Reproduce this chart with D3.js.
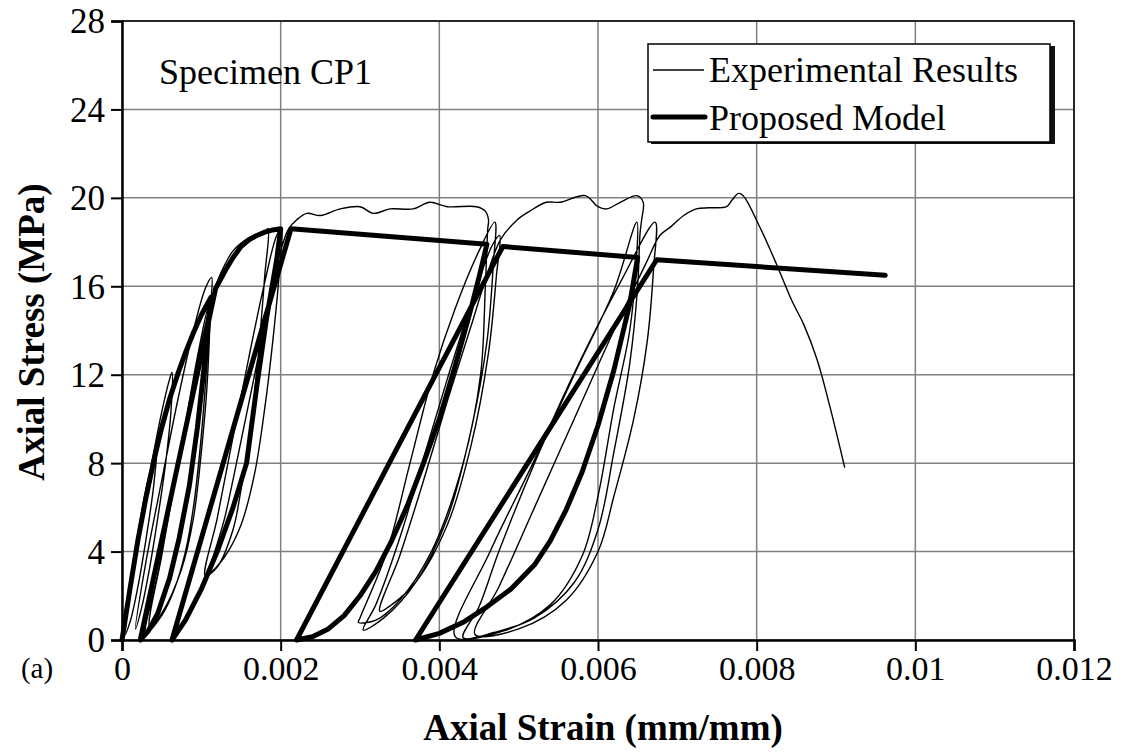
<!DOCTYPE html>
<html>
<head>
<meta charset="utf-8">
<script src="https://cdn.jsdelivr.net/npm/d3@7"></script>
<style>
  body { margin: 0; background: #fff; }
  svg text { font-family: "Liberation Serif", "Times New Roman", serif; fill: #000; }
</style>
</head>
<body>
<script>
// tick values and labels
const xTicks = [0, 0.002, 0.004, 0.006, 0.008, 0.01, 0.012]
const xTickLabels = ['0', '0.002', '0.004', '0.006', '0.008', '0.01', '0.012']
const yTicks = [0, 4, 8, 12, 16, 20, 24, 28]

const seriesNames = ['Experimental Results', 'Proposed Model']

// experimental curve [strain, stress (MPa)]
const experimental = [
  // first small cycles
  [0, 0], [0.0001, 2.6], [0.0002, 4.8], [0.0003, 6.8], [0.0004, 8.3], [0.00044, 8.9],
  [0.0004, 7], [0.0003, 4.5], [0.0002, 2.4], [0.0001, 0.8], [0.00003, 0.2],
  [0.0001, 2.2], [0.0002, 4.4], [0.0003, 6.5], [0.0004, 8.5], [0.0005, 10.3], [0.0006, 11.8], [0.00063, 12.1],
  [0.00062, 10.5], [0.00055, 8], [0.00045, 5.5], [0.00035, 3.3], [0.00025, 1.5], [0.00017, 0.5],
  [0.0003, 3.5], [0.0005, 7.2], [0.0007, 10.8], [0.0009, 14], [0.00105, 15.9], [0.00113, 16.4],
  [0.0011, 14.5], [0.00105, 11.5], [0.00098, 8.5], [0.0009, 6], [0.0008, 4], [0.00065, 2.2], [0.0005, 1.1], [0.0003, 0.3],
  [0.00045, 3], [0.0006, 6], [0.0008, 9.8], [0.00095, 12.8], [0.0011, 15.2],
  [0.00108, 12], [0.001, 8.5], [0.0009, 5.5], [0.00075, 3.2], [0.0005, 1.2], [0.00035, 0.6],
  [0.0005, 3.8], [0.0007, 7.8], [0.0009, 11.6], [0.0011, 15], [0.0012, 16.2], [0.0013, 17], [0.0014, 17.6],
  [0.0016, 18.2], [0.0018, 18.5], [0.00184, 18.6],
  // second group of cycles
  [0.0018, 16.5], [0.00172, 13], [0.00162, 9.5], [0.0015, 6.8], [0.0014, 5], [0.0012, 3.3], [0.00105, 2.9],
  [0.0012, 5.5], [0.0014, 9.2], [0.0016, 12.8], [0.0018, 16.2], [0.00195, 18.3], [0.00201, 18.6],
  [0.00198, 16.5], [0.0019, 13.5], [0.0018, 10.5], [0.00167, 7.5], [0.0015, 5.2], [0.0013, 3.8], [0.00112, 3.1],
  [0.0013, 5.6], [0.0015, 9], [0.0017, 12.5], [0.0019, 16], [0.002, 17.6], [0.0021, 18.6], [0.0022, 19.0],
  // plateau
  [0.00233, 19.3], [0.0025, 19.2], [0.00275, 19.5], [0.003, 19.6], [0.00317, 19.3], [0.00338, 19.5],
  [0.00367, 19.5], [0.00388, 19.8], [0.0041, 19.6], [0.00447, 19.6], [0.00458, 19.4], [0.00462, 19.0], [0.00461, 18.6],
  // third group of cycles
  [0.00458, 16], [0.00452, 12], [0.0043, 8], [0.0039, 4], [0.0035, 1.8], [0.0032, 0.9], [0.00298, 0.8],
  [0.003, 1.0], [0.00334, 4], [0.00363, 8], [0.00392, 12], [0.0042, 15], [0.0045, 17.6], [0.0047, 18.9],
  [0.00468, 17], [0.0046, 13.5], [0.0044, 9.5], [0.0041, 5.5], [0.0037, 2.6], [0.0033, 1.0], [0.00304, 0.45],
  [0.0032, 1.6], [0.0035, 4.6], [0.0038, 8.2], [0.0041, 11.8], [0.0044, 15.2], [0.00466, 17.8], [0.00476, 18.3],
  [0.00472, 16.5], [0.00462, 13], [0.0044, 8.8], [0.0041, 5.2], [0.0037, 2.6], [0.0034, 1.6], [0.00325, 1.3],
  [0.0035, 3.8], [0.0038, 7.2], [0.0041, 10.8], [0.0044, 14.2], [0.0046, 16.5], [0.00477, 18.1],
  [0.00498, 19.0], [0.00514, 19.4], [0.00535, 19.8], [0.00552, 19.8], [0.00584, 20.1], [0.006, 19.6],
  [0.00611, 19.5], [0.00628, 19.8], [0.00649, 20.1], [0.00657, 19.8], [0.00655, 19.0], [0.00653, 18.4],
  // fourth group of cycles
  [0.0065, 16], [0.0064, 12.5], [0.0062, 8.5], [0.006, 5], [0.0057, 2.6], [0.0052, 1.0], [0.0047, 0.35], [0.0043, 0.1],
  [0.0045, 1.5], [0.00475, 4], [0.0052, 8], [0.0057, 12], [0.0062, 15.8], [0.00649, 18.9],
  [0.00648, 17], [0.0064, 14], [0.0062, 10.5], [0.006, 6.5], [0.0058, 3.8], [0.0054, 1.6], [0.0048, 0.4], [0.0042, 0.15],
  [0.00464, 4], [0.00518, 8], [0.00569, 12], [0.0063, 16.3], [0.00672, 18.9],
  [0.0067, 16.8], [0.00662, 13.5], [0.00645, 10], [0.0062, 6.5], [0.006, 4], [0.0056, 1.8], [0.005, 0.5], [0.00445, 0.25],
  [0.00475, 2.4], [0.0052, 6], [0.0057, 10], [0.0062, 14], [0.0066, 17], [0.00678, 18.3],
  // final branch
  [0.00692, 18.7], [0.00708, 19.2], [0.00724, 19.5], [0.0074, 19.55], [0.00762, 19.6], [0.00769, 19.9],
  [0.00777, 20.2], [0.00783, 20.1], [0.00805, 18.6], [0.00825, 17.0], [0.00845, 15.3], [0.00859, 14.3],
  [0.00876, 12.7], [0.00892, 10.6], [0.00911, 7.8]
]

// proposed model [strain, stress (MPa)]
const model = [
  [0, 0], [0.0001, 2.3], [0.0002, 4.5], [0.0003, 6.4], [0.0004, 8.1], [0.0005, 9.6], [0.0006, 10.9],
  [0.0007, 12.0], [0.0008, 13.0], [0.0009, 13.9], [0.001, 14.7], [0.00112, 15.5],
  [0.00105, 12.8], [0.00095, 9.6], [0.00085, 7.0], [0.00072, 4.6], [0.0006, 2.8], [0.00045, 1.2], [0.00033, 0.4], [0.00023, 0],
  [0.00118, 15.9],
  [0.0013, 16.7], [0.0014, 17.3], [0.0015, 17.8], [0.0016, 18.1], [0.0017, 18.3], [0.0018, 18.45], [0.0019, 18.55], [0.002, 18.6],
  [0.00195, 17.2], [0.00182, 14.5], [0.0017, 11.5], [0.00157, 8.0], [0.0014, 6.0], [0.0012, 4.0], [0.001, 2.3], [0.0008, 0.9], [0.00063, 0],
  [0.00213, 18.6],
  [0.0046, 17.9],
  [0.0045, 16.4], [0.0044, 15.0], [0.0042, 12.4], [0.004, 10.0], [0.0038, 8.0], [0.0036, 6.1], [0.0034, 4.5], [0.0032, 3.1],
  [0.003, 2.0], [0.0028, 1.1], [0.0026, 0.5], [0.0024, 0.15], [0.0022, 0],
  [0.0048, 17.8],
  [0.0065, 17.3],
  [0.0064, 15.2], [0.0062, 12.2], [0.006, 9.7], [0.0058, 7.6], [0.0056, 5.9], [0.0054, 4.5], [0.0052, 3.4],
  [0.0049, 2.3], [0.0046, 1.5], [0.0043, 0.8], [0.004, 0.3], [0.0037, 0],
  [0.00674, 17.2],
  [0.00962, 16.5]
]

const width = 1130
const height = 755
const plotLeft = 122, plotRight = 1074, plotTop = 21, plotBottom = 640

const svg = d3.select('body').append('svg').attr('width', width).attr('height', height)
svg.append('rect').attr('width', width).attr('height', height).attr('fill', '#fff')

const xScale = d3.scaleLinear().domain([0, 0.012]).range([plotLeft, plotRight])
const yScale = d3.scaleLinear().domain([0, 28]).range([plotBottom, plotTop])

// grid
svg.append('g').selectAll('line').data(xTicks).enter().append('line')
  .attr('x1', d => xScale(d)).attr('x2', d => xScale(d))
  .attr('y1', plotTop).attr('y2', plotBottom)
  .attr('stroke', '#808080').attr('stroke-width', 1.5)
svg.append('g').selectAll('line').data(yTicks).enter().append('line')
  .attr('x1', plotLeft).attr('x2', plotRight)
  .attr('y1', d => yScale(d)).attr('y2', d => yScale(d))
  .attr('stroke', '#808080').attr('stroke-width', 1.5)

// top and right frame
svg.append('path')
  .attr('d', `M${plotLeft},${plotTop}H${plotRight}V${plotBottom}`)
  .attr('fill', 'none').attr('stroke', '#000').attr('stroke-width', 1.5)

// axes
const xAxis = d3.axisBottom(xScale).tickValues(xTicks).tickFormat((d, i) => xTickLabels[i]).tickSizeOuter(0).tickSize(11).tickPadding(5)
const yAxis = d3.axisLeft(yScale).tickValues(yTicks).tickSizeOuter(0).tickSize(11).tickPadding(6)

const gx = svg.append('g').attr('transform', `translate(0,${plotBottom})`).call(xAxis)
const gy = svg.append('g').attr('transform', `translate(${plotLeft},0)`).call(yAxis)
gx.select('.domain').attr('stroke-width', 2.5)
gy.select('.domain').attr('stroke-width', 2.5)
gx.selectAll('.tick line').attr('stroke-width', 2)
gy.selectAll('.tick line').attr('stroke-width', 2)
gx.selectAll('text').attr('font-size', 34)
gy.selectAll('text').attr('font-size', 35).attr('dy', '0.34em')

// lines
const expLine = d3.line().x(d => xScale(d[0])).y(d => yScale(d[1])).curve(d3.curveCatmullRom.alpha(0.5))
const modelLine = d3.line().x(d => xScale(d[0])).y(d => yScale(d[1]))

svg.append('path').datum(experimental)
  .attr('d', expLine)
  .attr('fill', 'none').attr('stroke', '#000').attr('stroke-width', 1.4).attr('stroke-linejoin', 'round')

svg.append('path').datum(model)
  .attr('d', modelLine)
  .attr('fill', 'none').attr('stroke', '#000').attr('stroke-width', 5).attr('stroke-linejoin', 'round').attr('stroke-linecap', 'round')

// labels
svg.append('text').text('Specimen CP1').attr('x', 159).attr('y', 84).attr('font-size', 36)
svg.append('text').text('(a)').attr('x', 37).attr('y', 678).attr('font-size', 29).attr('text-anchor', 'middle')
svg.append('text').text('Axial Strain (mm/mm)').attr('x', 603).attr('y', 740)
  .attr('font-size', 37).attr('font-weight', 'bold').attr('text-anchor', 'middle')
svg.append('text').text('Axial Stress (MPa)')
  .attr('transform', `translate(44,332) rotate(-90)`)
  .attr('font-size', 37).attr('font-weight', 'bold').attr('text-anchor', 'middle')

// legend
const legend = svg.append('g')
legend.append('rect').attr('x', 1049).attr('y', 46).attr('width', 6).attr('height', 98).attr('fill', '#111')
legend.append('rect').attr('x', 651).attr('y', 141).attr('width', 404).attr('height', 3).attr('fill', '#111')
legend.append('rect').attr('x', 648).attr('y', 44).attr('width', 402).attr('height', 98)
  .attr('fill', '#fff').attr('stroke', '#000').attr('stroke-width', 1.5)
legend.append('line').attr('x1', 653).attr('x2', 704).attr('y1', 70).attr('y2', 70).attr('stroke', '#000').attr('stroke-width', 1.4)
legend.append('line').attr('x1', 653).attr('x2', 705).attr('y1', 117).attr('y2', 117).attr('stroke', '#000').attr('stroke-width', 5).attr('stroke-linecap', 'round')
legend.selectAll('.lt').data(seriesNames).enter().append('text').attr('class', 'lt')
  .text(d => d).attr('x', 709).attr('y', (d, i) => 82 + i * 48).attr('font-size', 36)
</script>
</body>
</html>
